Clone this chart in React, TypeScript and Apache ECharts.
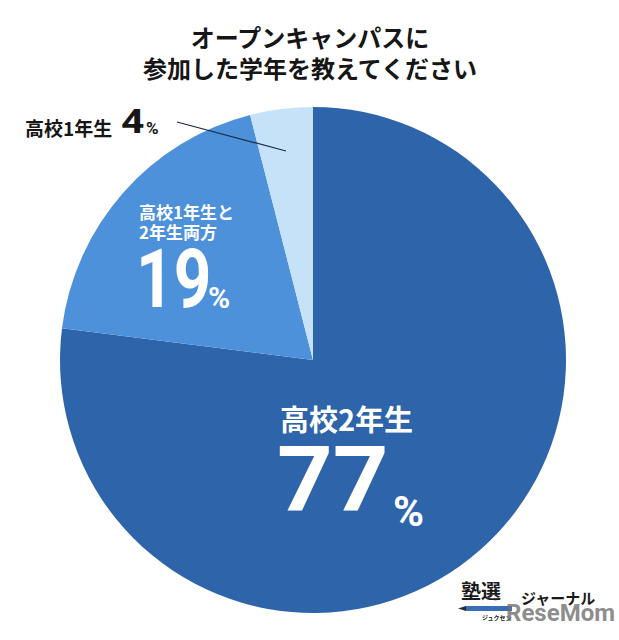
import React, { useEffect, useRef } from "react";
import * as echarts from "echarts";

const titleLines = ["オープンキャンパスに", "参加した学年を教えてください"];
const categories = ["高校2年生", "高校1年生と2年生両方", "高校1年生"];
const values = [77, 19, 4];
const sliceColors = ["#2e65aa", "#4c91da", "#c5e2f8"];

const JP = '"Noto Sans CJK JP", "Noto Sans", sans-serif';
const NUM = 'Roboto, "Noto Sans", sans-serif';

function txt(x: number, y: number, text: string, font: string, fill: string, extra: any = {}) {
  return {
    type: "text",
    x,
    y,
    z: 100,
    ...extra,
    style: { text, font, fill, align: "left", verticalAlign: "middle", ...(extra.style || {}) },
  };
}

export default function App() {
  const ref = useRef<HTMLDivElement>(null);
  useEffect(() => {
    if (!ref.current) return;
    const chart = echarts.init(ref.current, undefined, { renderer: "svg" });
    const option: any = {
      animation: false,
      backgroundColor: "#ffffff",
      series: [
        {
          type: "pie",
          z: 2,
          center: [313, 360],
          radius: [0, 253],
          startAngle: 90,
          clockwise: true,
          label: { show: false },
          labelLine: { show: false },
          emphasis: { disabled: true },
          itemStyle: { borderWidth: 0 },
          data: categories.map((name, i) => ({
            name,
            value: values[i],
            itemStyle: { color: sliceColors[i] },
          })),
        },
      ],
      graphic: [
        txt(310, 36, titleLines[0], `bold 24px ${JP}`, "#161616", { style: { align: "center" } }),
        txt(310, 67, titleLines[1], `bold 24px ${JP}`, "#161616", { style: { align: "center" } }),
        // 4% label (outside)
        txt(25, 127, categories[2], `bold 19px ${JP}`, "#161616"),
        txt(121, 121, String(values[2]), `bold 34px ${NUM}`, "#161616", { scaleX: 1.2 }),
        txt(146, 128, "%", `bold 17px ${NUM}`, "#161616"),
        {
          type: "line",
          z: 100,
          shape: { x1: 177, y1: 122, x2: 286, y2: 151 },
          style: { stroke: "#1c2a48", lineWidth: 1.2 },
        },
        // 19% label
        txt(139, 211, "高校1年生と", `bold 17px ${JP}`, "#ffffff"),
        txt(139, 231, "2年生両方", `bold 17px ${JP}`, "#ffffff"),
        txt(136, 279, String(values[1]), `bold 82px ${NUM}`, "#ffffff", { scaleX: 0.8 }),
        txt(208, 297, "%", `bold 30px ${NUM}`, "#ffffff"),
        // 77% label
        txt(280, 418, categories[0], `bold 29px ${JP}`, "#ffffff"),
        txt(277, 480, String(values[0]), `bold 90px ${NUM}`, "#ffffff", { scaleX: 1.08 }),
        txt(393, 511, "%", `bold 42px ${NUM}`, "#ffffff"),
        // logo
        txt(461, 590, "塾選", `bold 20px ${JP}`, "#1a1a1a"),
        txt(521, 597, "ジャーナル", `bold 15px ${JP}`, "#1a1a1a"),
        {
          type: "rect",
          z: 100,
          shape: { x: 466, y: 606, width: 46, height: 5 },
          style: { fill: "#3a6db6" },
        },
        {
          type: "polygon",
          z: 100,
          shape: { points: [[458, 608.5], [466, 606], [466, 611]] },
          style: { fill: "#2b2b2b" },
        },
        txt(482, 617, "ジュクセン", `bold 6px ${JP}`, "#1a1a1a"),
        txt(506, 613, "ReseMom", `bold 24px ${NUM}`, "rgba(110,110,110,0.8)"),
      ],
    };
    chart.setOption(option);
    return () => chart.dispose();
  }, []);
  return (
    <div
      ref={ref}
      style={{ position: "fixed", left: 0, top: 0, width: 619, height: 640 }}
    />
  );
}
